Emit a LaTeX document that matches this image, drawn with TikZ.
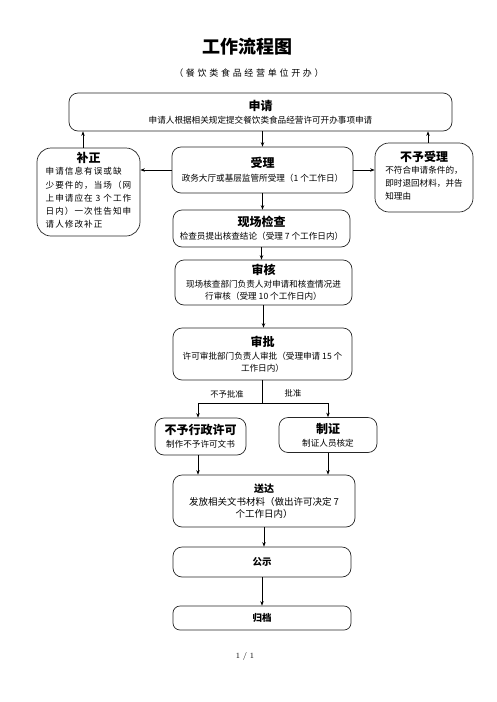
\documentclass[tikz,border=0pt]{standalone}
\usepackage{fontspec}
\newfontfamily\cjk{Noto Sans CJK SC}
\newfontfamily\cjkwide[LetterSpace=12]{Noto Sans CJK SC}
\newfontfamily\cjksub[LetterSpace=30]{Noto Sans CJK SC}
\usetikzlibrary{arrows.meta}
\newcommand\TT[1]{{\fontsize{12}{14}\selectfont\bfseries #1}}
\newcommand\BB[1]{{\fontsize{8.6}{12}\selectfont #1}}
\tikzset{
  box/.style={draw=black!85, line width=0.7pt, rounded corners=9pt, align=center, inner sep=0pt, font=\cjk},
  arr/.style={-{Stealth[length=4.5pt,width=3.5pt]}, line width=0.7pt},
  ln/.style={line width=0.7pt},
  lbl/.style={font=\cjk\fontsize{8.3}{10}\selectfont, inner sep=0pt}
}
\begin{document}
\begin{tikzpicture}[x=1pt,y=-1pt]
\path[use as bounding box] (0,0) rectangle (496,702);
\node[font=\cjk\fontsize{18}{20}\selectfont\bfseries] (title) at (247,47) {工作流程图};
\node[font=\cjksub\fontsize{9}{11}\selectfont] (sub) at (249,73) {（餐饮类食品经营单位开办）};

\node[box, minimum width=383pt, minimum height=38pt] (sq) at (260.5,112)
  {\TT{申请}\\[1pt]\BB{申请人根据相关规定提交餐饮类食品经营许可开办事项申请}};
\node[box, rounded corners=14pt, minimum width=103pt, minimum height=88pt] (bz) at (88.5,192)
  {\TT{补正}\\[1pt]{\cjkwide\fontsize{8.6}{13.3}\selectfont\begin{tabular}{@{}l@{}}申请信息有误或缺\\少要件的，当场（网\\上申请应在 3 个工作\\日内）一次性告知申\\请人修改补正\end{tabular}}};
\node[box, minimum width=181pt, minimum height=46pt] (sl) at (262.5,170)
  {\TT{受理}\\[2pt]\BB{政务大厅或基层监管所受理（1 个工作日）}};
\node[box, rounded corners=14pt, minimum width=98pt, minimum height=69pt] (bsl) at (424,177.5)
  {\TT{不予受理}\\[1pt]{\fontsize{8.6}{13}\selectfont\begin{tabular}{@{}l@{}}不符合申请条件的，\\即时退回材料，并告\\知理由\end{tabular}}};
\node[box, minimum width=177pt, minimum height=37pt] (xc) at (261.5,228.5)
  {\TT{现场检查}\\[1pt]\BB{检查员提出核查结论（受理 7 个工作日内）}};
\node[box, minimum width=177pt, minimum height=45pt] (sh) at (263.5,282.5)
  {\TT{审核}\\[1pt]\BB{现场核查部门负责人对申请和核查情况进}\\\BB{行审核（受理 10 个工作日内）}};
\node[box, minimum width=179pt, minimum height=52pt] (sp) at (262.5,354)
  {\TT{审批}\\[1pt]\BB{许可审批部门负责人审批（受理申请 15 个}\\\BB{工作日内）}};
\node[box, minimum width=91pt, minimum height=37pt] (byxk) at (200.5,436.5)
  {\TT{不予行政许可}\\[1pt]\BB{制作不予许可文书}};
\node[box, minimum width=98pt, minimum height=35pt] (zz) at (328,435)
  {\TT{制证}\\[1pt]\BB{制证人员核定}};
\node[box, minimum width=182pt, minimum height=52pt] (sd) at (264,501)
  {{\fontsize{10}{12}\selectfont\bfseries 送达}\\[1pt]{\fontsize{9.5}{12.5}\selectfont 发放相关文书材料（做出许可决定 7}\\{\fontsize{9.5}{12.5}\selectfont 个工作日内）}};
\node[box, minimum width=178pt, minimum height=30pt, font=\cjk\fontsize{9.5}{11}\selectfont\bfseries] (gs) at (262,562) {公示};
\node[box, minimum width=178pt, minimum height=24pt, rounded corners=7pt, font=\cjk\fontsize{9.5}{11}\selectfont\bfseries] (gd) at (262,618) {归档};
\node[font=\fontsize{8}{10}\selectfont] (pg) at (245,656) {1 / 1};

\coordinate (j) at (262.5,403);
\node[lbl] (l1) at (227,394) {不予批准};
\node[lbl] (l2) at (293,393) {批准};

\draw[arr] (sl.north |- sq.south) -- (sl.north);
\draw[arr] (sl.west) -- (sl.west -| bz.east);
\draw[arr] (sl.east) -- (sl.east -| bsl.west);
\draw[arr] ([xshift=-5.5pt]bz.north) -- ([xshift=-5.5pt]bz.north |- sq.south);
\draw[arr] ([xshift=4pt]bsl.north) -- ([xshift=4pt]bsl.north |- sq.south);
\draw[arr] (sl.south) -- (sl.south |- xc.north);
\draw[arr] (xc.south) -- (xc.south |- sh.north);
\draw[arr] (sh.south) -- (sh.south |- sp.north);
\draw[ln] (sp.south |- sp.south) -- (sp.south |- j);
\draw[ln] ([xshift=-2.5pt]byxk.north |- j) -- (zz.north |- j);
\draw[arr] ([xshift=-2.5pt]byxk.north |- j) -- ([xshift=-2.5pt]byxk.north);
\draw[arr] (zz.north |- j) -- (zz.north);
\draw[arr] ([xshift=-2.5pt]byxk.south) -- ([xshift=-2.5pt]byxk.south |- sd.north);
\draw[arr] (zz.south) -- (zz.south |- sd.north);
\draw[arr] (sd.south) -- (sd.south |- gs.north);
\draw[arr] (gs.south) -- (gs.south |- gd.north);
\end{tikzpicture}
\end{document}
